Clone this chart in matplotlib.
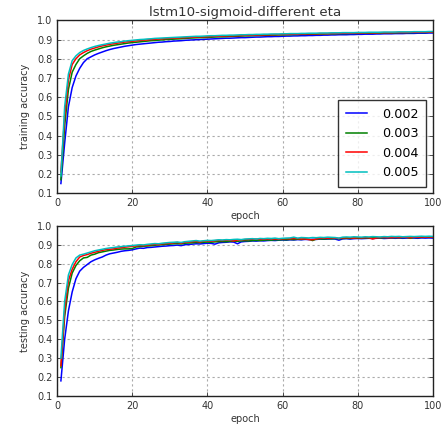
import numpy as np
import matplotlib
matplotlib.use("Agg")
import matplotlib.pyplot as plt

epochs = np.arange(1, 101)
etas = ["0.002", "0.003", "0.004", "0.005"]
colors = ["b", "g", "r", "c"]

train_002 = [
    0.15, 0.36, 0.55, 0.65, 0.71, 0.75, 0.78, 0.80, 0.81, 0.82,
    0.828, 0.835, 0.842, 0.848, 0.853, 0.857, 0.861, 0.865, 0.868, 0.871,
    0.874, 0.876, 0.878, 0.880, 0.882, 0.884, 0.886, 0.887, 0.889, 0.890,
    0.892, 0.893, 0.894, 0.896, 0.897, 0.898, 0.899, 0.900, 0.901, 0.902,
    0.903, 0.904, 0.905, 0.906, 0.907, 0.907, 0.908, 0.909, 0.910, 0.910,
    0.911, 0.912, 0.913, 0.913, 0.914, 0.915, 0.915, 0.916, 0.916, 0.917,
    0.918, 0.918, 0.919, 0.919, 0.920, 0.920, 0.921, 0.921, 0.922, 0.922,
    0.923, 0.923, 0.924, 0.924, 0.925, 0.925, 0.925, 0.926, 0.926, 0.927,
    0.927, 0.928, 0.928, 0.928, 0.929, 0.929, 0.930, 0.930, 0.930, 0.931,
    0.931, 0.931, 0.932, 0.932, 0.932, 0.933, 0.933, 0.933, 0.934, 0.934,
]
train_003 = [
    0.17, 0.45, 0.64, 0.73, 0.77, 0.80, 0.815, 0.828, 0.838, 0.845,
    0.851, 0.857, 0.862, 0.866, 0.870, 0.873, 0.876, 0.879, 0.882, 0.884,
    0.886, 0.888, 0.890, 0.892, 0.894, 0.895, 0.897, 0.898, 0.900, 0.901,
    0.902, 0.903, 0.904, 0.906, 0.907, 0.908, 0.909, 0.910, 0.910, 0.911,
    0.912, 0.913, 0.914, 0.914, 0.915, 0.916, 0.917, 0.917, 0.918, 0.919,
    0.919, 0.920, 0.921, 0.921, 0.922, 0.922, 0.923, 0.923, 0.924, 0.924,
    0.925, 0.925, 0.926, 0.926, 0.927, 0.927, 0.928, 0.928, 0.928, 0.929,
    0.929, 0.930, 0.930, 0.930, 0.931, 0.931, 0.931, 0.932, 0.932, 0.932,
    0.933, 0.933, 0.933, 0.934, 0.934, 0.934, 0.935, 0.935, 0.935, 0.935,
    0.936, 0.936, 0.936, 0.936, 0.937, 0.937, 0.937, 0.937, 0.938, 0.938,
]
train_004 = [
    0.21, 0.50, 0.69, 0.77, 0.80, 0.82, 0.832, 0.842, 0.850, 0.856,
    0.862, 0.867, 0.871, 0.875, 0.878, 0.881, 0.884, 0.887, 0.889, 0.891,
    0.893, 0.895, 0.897, 0.898, 0.900, 0.901, 0.903, 0.904, 0.905, 0.906,
    0.907, 0.908, 0.909, 0.910, 0.911, 0.912, 0.913, 0.914, 0.914, 0.915,
    0.916, 0.917, 0.917, 0.918, 0.919, 0.919, 0.920, 0.920, 0.921, 0.922,
    0.922, 0.923, 0.923, 0.924, 0.924, 0.925, 0.925, 0.926, 0.926, 0.927,
    0.927, 0.928, 0.928, 0.928, 0.929, 0.929, 0.930, 0.930, 0.930, 0.931,
    0.931, 0.931, 0.932, 0.932, 0.932, 0.933, 0.933, 0.933, 0.934, 0.934,
    0.934, 0.935, 0.935, 0.935, 0.935, 0.936, 0.936, 0.936, 0.936, 0.937,
    0.937, 0.937, 0.937, 0.938, 0.938, 0.938, 0.938, 0.939, 0.939, 0.939,
]
train_005 = [
    0.19, 0.55, 0.72, 0.79, 0.815, 0.832, 0.843, 0.851, 0.858, 0.864,
    0.869, 0.873, 0.877, 0.881, 0.884, 0.887, 0.889, 0.892, 0.894, 0.896,
    0.898, 0.900, 0.901, 0.903, 0.904, 0.906, 0.907, 0.908, 0.909, 0.910,
    0.911, 0.912, 0.913, 0.914, 0.915, 0.916, 0.917, 0.917, 0.918, 0.919,
    0.920, 0.920, 0.921, 0.922, 0.922, 0.923, 0.923, 0.924, 0.925, 0.925,
    0.926, 0.926, 0.927, 0.927, 0.928, 0.928, 0.929, 0.929, 0.929, 0.930,
    0.930, 0.931, 0.931, 0.931, 0.932, 0.932, 0.933, 0.933, 0.933, 0.934,
    0.934, 0.934, 0.935, 0.935, 0.935, 0.936, 0.936, 0.936, 0.936, 0.937,
    0.937, 0.937, 0.938, 0.938, 0.938, 0.938, 0.939, 0.939, 0.939, 0.939,
    0.940, 0.940, 0.940, 0.940, 0.941, 0.941, 0.941, 0.941, 0.942, 0.942,
]

test_002 = [
    0.18, 0.40, 0.55, 0.65, 0.72, 0.76, 0.78, 0.795, 0.81, 0.82,
    0.828, 0.835, 0.845, 0.852, 0.856, 0.86, 0.865, 0.868, 0.87, 0.873,
    0.878, 0.882, 0.881, 0.885, 0.886, 0.888, 0.89, 0.892, 0.893, 0.895,
    0.896, 0.898, 0.895, 0.9, 0.901, 0.903, 0.905, 0.904, 0.906, 0.908,
    0.907, 0.903, 0.91, 0.912, 0.913, 0.915, 0.914, 0.905, 0.915, 0.917,
    0.918, 0.92, 0.919, 0.921, 0.92, 0.922, 0.923, 0.922, 0.924, 0.925,
    0.924, 0.926, 0.925, 0.927, 0.926, 0.928, 0.927, 0.929, 0.928, 0.93,
    0.929, 0.93, 0.931, 0.93, 0.924, 0.931, 0.932, 0.93, 0.932, 0.933,
    0.932, 0.933, 0.934, 0.933, 0.934, 0.935, 0.933, 0.934, 0.935, 0.934,
    0.935, 0.934, 0.935, 0.936, 0.935, 0.934, 0.936, 0.935, 0.936, 0.935,
]
test_003 = [
    0.25, 0.52, 0.67, 0.75, 0.79, 0.815, 0.83, 0.833, 0.845, 0.85,
    0.858, 0.862, 0.866, 0.87, 0.872, 0.875, 0.877, 0.878, 0.878, 0.88,
    0.888, 0.89, 0.892, 0.893, 0.895, 0.897, 0.899, 0.9, 0.902, 0.903,
    0.905, 0.906, 0.904, 0.908, 0.909, 0.91, 0.912, 0.911, 0.913, 0.914,
    0.913, 0.915, 0.916, 0.917, 0.916, 0.918, 0.919, 0.918, 0.92, 0.921,
    0.92, 0.922, 0.923, 0.922, 0.924, 0.925, 0.924, 0.926, 0.925, 0.927,
    0.926, 0.928, 0.927, 0.929, 0.928, 0.93, 0.929, 0.922, 0.93, 0.931,
    0.93, 0.932, 0.931, 0.933, 0.932, 0.933, 0.934, 0.933, 0.935, 0.934,
    0.935, 0.936, 0.935, 0.936, 0.937, 0.936, 0.937, 0.938, 0.937, 0.938,
    0.937, 0.938, 0.939, 0.934, 0.939, 0.938, 0.939, 0.94, 0.939, 0.94,
]
test_004 = [
    0.26, 0.55, 0.71, 0.77, 0.81, 0.835, 0.843, 0.848, 0.855, 0.86,
    0.865, 0.87, 0.874, 0.876, 0.878, 0.882, 0.884, 0.887, 0.889, 0.892,
    0.894, 0.896, 0.895, 0.898, 0.9, 0.902, 0.901, 0.905, 0.906, 0.908,
    0.91, 0.912, 0.908, 0.913, 0.915, 0.916, 0.918, 0.914, 0.919, 0.92,
    0.918, 0.921, 0.923, 0.922, 0.924, 0.923, 0.92, 0.925, 0.926, 0.927,
    0.928, 0.929, 0.93, 0.928, 0.929, 0.93, 0.931, 0.93, 0.929, 0.931,
    0.932, 0.931, 0.933, 0.932, 0.93, 0.931, 0.927, 0.926, 0.93, 0.934,
    0.935, 0.934, 0.936, 0.935, 0.933, 0.936, 0.937, 0.936, 0.935, 0.937,
    0.936, 0.938, 0.937, 0.93, 0.936, 0.938, 0.939, 0.937, 0.938, 0.939,
    0.938, 0.94, 0.939, 0.937, 0.94, 0.939, 0.941, 0.94, 0.941, 0.94,
]
test_005 = [
    0.30, 0.60, 0.74, 0.795, 0.83, 0.845, 0.85, 0.856, 0.862, 0.868,
    0.872, 0.876, 0.88, 0.883, 0.885, 0.888, 0.89, 0.892, 0.894, 0.896,
    0.898, 0.9, 0.899, 0.902, 0.904, 0.906, 0.905, 0.908, 0.91, 0.912,
    0.913, 0.914, 0.912, 0.916, 0.918, 0.92, 0.922, 0.919, 0.921, 0.923,
    0.922, 0.924, 0.926, 0.925, 0.927, 0.926, 0.928, 0.929, 0.927, 0.93,
    0.931, 0.932, 0.93, 0.933, 0.932, 0.934, 0.933, 0.935, 0.932, 0.934,
    0.935, 0.936, 0.94, 0.935, 0.938, 0.937, 0.936, 0.938, 0.937, 0.939,
    0.938, 0.94, 0.939, 0.938, 0.935, 0.94, 0.941, 0.94, 0.942, 0.941,
    0.94, 0.942, 0.941, 0.943, 0.942, 0.941, 0.943, 0.942, 0.944, 0.943,
    0.944, 0.942, 0.943, 0.944, 0.943, 0.944, 0.945, 0.944, 0.945, 0.944,
]

train_series = [train_002, train_003, train_004, train_005]
test_series = [test_002, test_003, test_004, test_005]

plt.rcParams["font.family"] = "DejaVu Sans"
plt.rcParams["xtick.direction"] = "in"
plt.rcParams["ytick.direction"] = "in"
plt.rcParams["xtick.top"] = True
plt.rcParams["ytick.right"] = True

fig = plt.figure(figsize=(4.43, 4.33), dpi=100)
ax1 = fig.add_axes([0.129, 0.554, 0.848, 0.399])
ax2 = fig.add_axes([0.129, 0.0855, 0.848, 0.393])


def style_axes(ax, ylabel):
    ax.set_xlim(0, 100)
    ax.set_ylim(0.1, 1.0)
    ax.set_yticks(np.arange(0.1, 1.01, 0.1))
    ax.set_xticks(np.arange(0, 101, 20))
    # short dashes, like the old classic dotted grid
    ax.grid(True, linestyle=(0, (2, 2.5)), color="#aaaaaa", linewidth=0.8)
    ax.tick_params(labelsize=7, length=3, width=0.6, colors="#333333")
    ax.set_xlabel("epoch", fontsize=7, color="#333333", labelpad=2)
    ax.set_ylabel(ylabel, fontsize=7, color="#333333", labelpad=5)
    for sp in ax.spines.values():
        sp.set_linewidth(1.0)
        sp.set_color("#222222")


for vals, c, lab in zip(train_series, colors, etas):
    ax1.plot(epochs, vals, color=c, linewidth=1.1, label=lab)
ax1.set_title("lstm10-sigmoid-different eta", fontsize=9.6, color="#333333", pad=3)
style_axes(ax1, "training accuracy")
leg = ax1.legend(loc="lower right", fontsize=9.2, fancybox=False,
                 handlelength=1.65, handletextpad=1.2, borderpad=0.6,
                 borderaxespad=0.5, labelspacing=0.5)
leg.get_frame().set_edgecolor("black")
leg.get_frame().set_linewidth(1.0)

for vals, c, lab in zip(test_series, colors, etas):
    ax2.plot(epochs, vals, color=c, linewidth=1.1, label=lab)
style_axes(ax2, "testing accuracy")

fig.savefig("out.png", dpi=100)
